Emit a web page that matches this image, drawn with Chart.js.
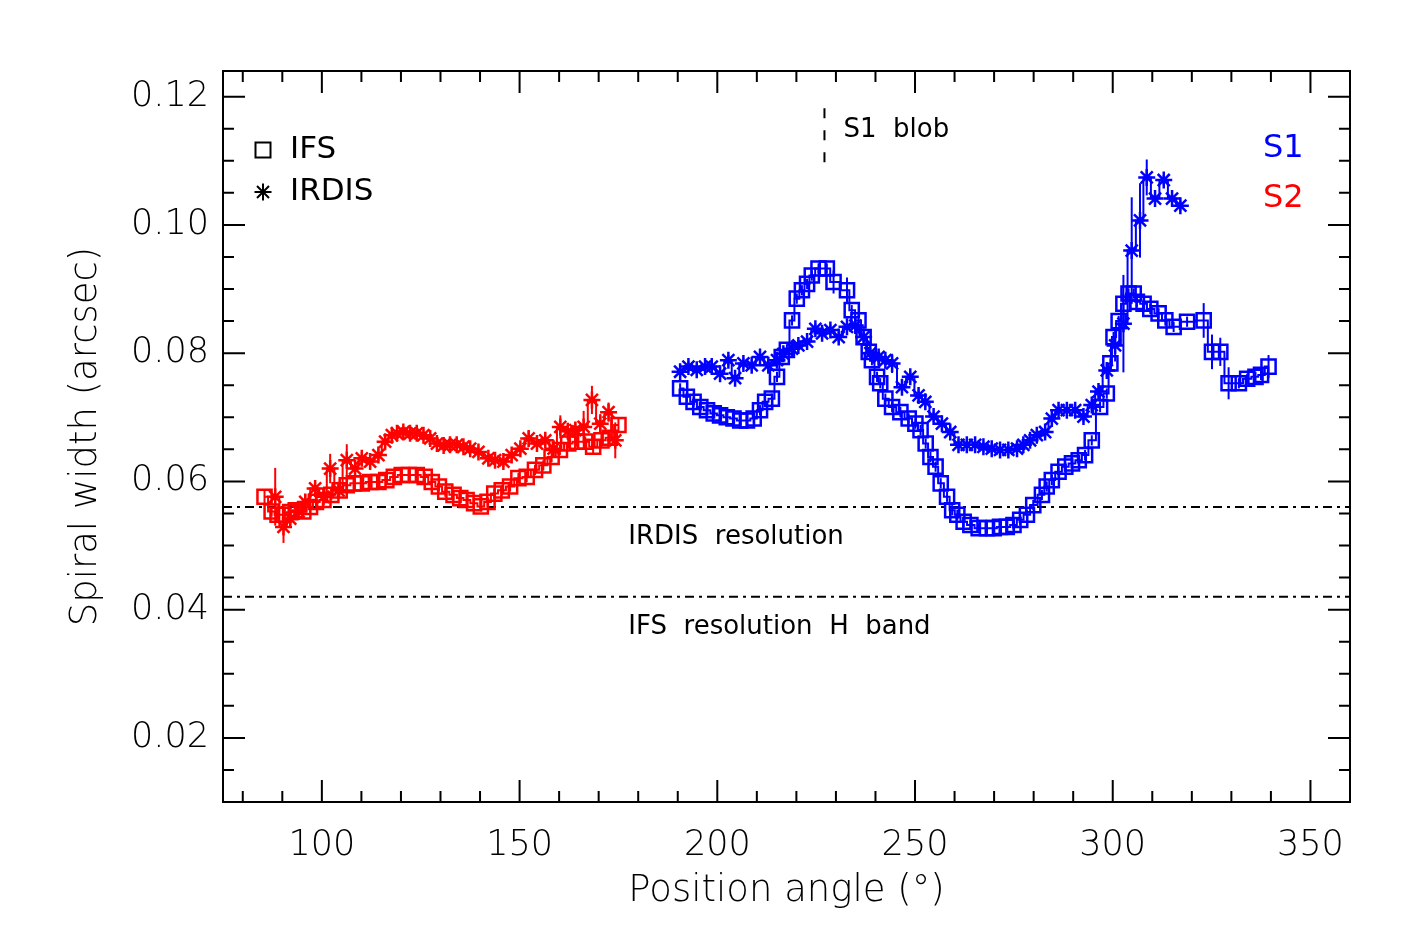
<!DOCTYPE html>
<html><head><meta charset="utf-8">
<script src="https://cdn.jsdelivr.net/npm/chart.js@4/dist/chart.umd.min.js"></script>
<style>html,body{margin:0;padding:0;background:#fff;}</style>
</head><body>
<canvas id="c" width="1417" height="944"></canvas>
<script>
// ---------------- DATA ----------------
const xTickValues = [100, 150, 200, 250, 300, 350];
const yTickValues = [0.02, 0.04, 0.06, 0.08, 0.10, 0.12];

// S2 (red) IFS
const s2IfsAngle = [85.5,87.3,88.8,90.3,92.0,93.4,95.3,97.0,98.5,100.4,102.4,104.5,106.3,108.1,110.1,112.2,114.3,116.3,118.2,120.2,122.0,124.0,126.0,127.8,129.6,131.2,133.3,135.0,136.6,138.5,140.2,141.9,143.6,145.5,147.6,149.7,151.8,153.9,156.0,158.1,160.2,162.3,164.5,166.6,168.6,170.7,172.8,175.0];
const s2IfsWidth = [0.0576,0.0553,0.0548,0.0548,0.0552,0.0555,0.0553,0.0560,0.0568,0.0571,0.0579,0.0586,0.0594,0.0597,0.0597,0.0599,0.0599,0.0602,0.0607,0.0610,0.0610,0.0610,0.0607,0.0599,0.0592,0.0584,0.0579,0.0574,0.0571,0.0566,0.0561,0.0568,0.0581,0.0586,0.0592,0.0605,0.0607,0.0618,0.0625,0.0638,0.0649,0.0659,0.0662,0.0662,0.0654,0.0664,0.0668,0.0688];
const s2IfsErr = [0.0010,0.0008,0.0008,0.0008,0.0008,0.0008,0.0008,0.0008,0.0008,0.0008,0.0008,0.0008,0.0008,0.0008,0.0008,0.0008,0.0008,0.0008,0.0008,0.0008,0.0008,0.0008,0.0008,0.0008,0.0008,0.0008,0.0008,0.0008,0.0008,0.0008,0.0008,0.0008,0.0008,0.0008,0.0008,0.0008,0.0008,0.0008,0.0008,0.0008,0.0008,0.0008,0.0008,0.0008,0.0010,0.0012,0.0012,0.0012];

// S2 (red) IRDIS
const s2IrdisAngle = [88.2,90.3,92.0,94.1,95.8,98.3,100.4,102.1,104.2,106.3,108.4,110.1,112.2,114.3,116.0,117.7,119.0,120.6,122.3,124.0,125.7,127.4,129.1,130.8,132.4,134.1,135.8,137.5,139.6,142.1,143.8,145.9,148.0,150.2,152.3,154.4,156.5,158.6,160.3,162.2,164.1,166.2,168.3,170.4,172.5,174.2];
const s2IrdisWidth = [0.0576,0.0529,0.0542,0.0553,0.0568,0.0589,0.0576,0.0620,0.0586,0.0633,0.0620,0.0636,0.0631,0.0641,0.0662,0.0672,0.0675,0.0677,0.0675,0.0675,0.0672,0.0667,0.0659,0.0656,0.0657,0.0657,0.0654,0.0651,0.0646,0.0636,0.0633,0.0631,0.0641,0.0651,0.0667,0.0659,0.0664,0.0651,0.0685,0.0678,0.0680,0.0685,0.0727,0.0690,0.0708,0.0664];
const s2IrdisErr = [0.0045,0.0025,0.0010,0.0010,0.0012,0.0010,0.0010,0.0023,0.0010,0.0025,0.0012,0.0010,0.0010,0.0010,0.0010,0.0008,0.0008,0.0008,0.0008,0.0008,0.0008,0.0008,0.0008,0.0008,0.0008,0.0008,0.0008,0.0008,0.0008,0.0008,0.0008,0.0008,0.0008,0.0008,0.0012,0.0008,0.0008,0.0008,0.0018,0.0012,0.0012,0.0025,0.0022,0.0015,0.0015,0.0028];

// S1 (blue) IFS
const s1IfsAngle = [190.6,192.3,194.0,195.7,197.4,199.1,200.7,202.4,204.1,205.8,207.5,209.2,210.8,212.1,213.8,215.1,216.3,217.6,218.9,220.1,221.4,222.7,223.9,225.6,227.7,229.4,232.8,234.0,235.7,237.0,238.3,239.1,240.4,241.2,242.5,244.2,246.3,248.4,250.1,251.4,252.7,253.9,255.2,256.5,258.1,259.4,260.7,262.3,264.0,266.1,268.2,269.9,271.5,273.2,274.9,276.6,278.3,279.9,282.1,283.3,284.6,286.3,288.0,289.7,291.4,293.0,294.7,296.8,298.5,299.4,300.2,301.5,302.7,304.0,305.3,306.1,307.8,309.5,311.6,313.3,315.4,318.8,323.0,325.1,327.2,329.3,331.9,334.0,336.1,337.5,339.4];
const s1IfsWidth = [0.0745,0.0732,0.0724,0.0716,0.0711,0.0706,0.0703,0.0700,0.0698,0.0695,0.0695,0.0698,0.0711,0.0724,0.0729,0.0763,0.0794,0.0805,0.0851,0.0885,0.0898,0.0908,0.0921,0.0932,0.0932,0.0911,0.0898,0.0867,0.0851,0.0825,0.0802,0.0789,0.0763,0.0753,0.0729,0.0716,0.0708,0.0698,0.0690,0.0680,0.0659,0.0638,0.0623,0.0597,0.0576,0.0555,0.0548,0.0537,0.0532,0.0527,0.0527,0.0527,0.0529,0.0529,0.0532,0.0540,0.0548,0.0563,0.0579,0.0592,0.0602,0.0615,0.0623,0.0628,0.0633,0.0641,0.0664,0.0716,0.0737,0.0784,0.0825,0.0850,0.0877,0.0893,0.0893,0.0880,0.0877,0.0869,0.0862,0.0851,0.0841,0.0849,0.0851,0.0802,0.0802,0.0753,0.0753,0.0760,0.0763,0.0766,0.0779];
const s1IfsErr = [0.0008,0.0008,0.0008,0.0008,0.0008,0.0008,0.0008,0.0008,0.0008,0.0008,
  0.0008,0.0008,0.0008,0.0008,0.0008,0.0008,0.0008,0.0008,0.0008,0.0008,
  0.0008,0.0008,0.0008,0.0008,0.0008,0.0018,0.0020,0.0008,0.0008,0.0008,
  0.0008,0.0008,0.0008,0.0008,0.0008,0.0008,0.0008,0.0008,0.0008,0.0008,
  0.0008,0.0008,0.0008,0.0008,0.0008,0.0008,0.0008,0.0008,0.0008,0.0008,
  0.0008,0.0008,0.0008,0.0008,0.0008,0.0008,0.0008,0.0008,0.0008,0.0008,
  0.0008,0.0008,0.0008,0.0008,0.0008,0.0008,0.0008,0.0008,0.0008,0.0008,
  0.0008,0.0008,0.0015,0.0008,0.0008,0.0008,0.0008,0.0008,0.0008,0.0008,
  0.0008,0.0008,0.0027,0.0027,0.0022,0.0025,0.0008,0.0008,0.0008,0.0008,
  0.0018];

// S1 (blue) IRDIS
const s1IrdisAngle = [190.6,192.7,194.8,196.9,198.6,200.7,202.8,204.5,206.6,208.7,210.8,212.9,215.1,216.7,218.9,220.5,222.7,224.8,226.5,228.6,230.7,232.8,234.9,237.0,238.7,240.8,242.5,244.2,246.7,248.8,250.9,252.6,254.7,256.8,258.9,261.0,263.1,265.2,267.3,269.4,271.5,273.6,275.8,277.4,279.1,280.8,282.9,284.6,286.3,288.4,290.5,292.6,294.7,296.4,298.5,300.6,302.7,304.8,306.9,308.6,310.7,312.9,315.0,317.1];
const s1IrdisWidth = [0.0771,0.0779,0.0774,0.0779,0.0779,0.0768,0.0789,0.0761,0.0784,0.0781,0.0794,0.0781,0.0789,0.0799,0.0807,0.0812,0.0818,0.0838,0.0831,0.0836,0.0825,0.0841,0.0843,0.0825,0.0800,0.0794,0.0789,0.0784,0.0747,0.0763,0.0734,0.0724,0.0701,0.0690,0.0677,0.0657,0.0657,0.0657,0.0654,0.0651,0.0649,0.0649,0.0651,0.0657,0.0664,0.0672,0.0677,0.0698,0.0711,0.0711,0.0711,0.0701,0.0719,0.0740,0.0773,0.0812,0.0846,0.0960,0.1007,0.1074,0.1041,0.1070,0.1041,0.1030];
const s1IrdisErr = [0.0008,0.0008,0.0008,0.0008,0.0008,0.0008,0.0008,0.0008,0.0008,0.0008,
  0.0008,0.0008,0.0008,0.0008,0.0008,0.0008,0.0008,0.0008,0.0008,0.0008,
  0.0008,0.0008,0.0008,0.0008,0.0008,0.0008,0.0008,0.0015,0.0012,0.0008,
  0.0008,0.0008,0.0008,0.0008,0.0008,0.0008,0.0008,0.0008,0.0008,0.0008,
  0.0008,0.0008,0.0008,0.0008,0.0008,0.0008,0.0008,0.0008,0.0008,0.0008,
  0.0008,0.0008,0.0008,0.0008,0.0010,0.0025,0.0076,0.0083,0.0058,0.0028,
  0.0008,0.0008,0.0008,0.0008];

// reference lines / annotations (data units)
const irdisResolution = 0.056;
const ifsResolution = 0.042;
const blobAngle = 227.1;
const blobRange = [0.109, 0.1182];

// ---------------- STYLE ----------------
const FONT = '"DejaVu Sans", sans-serif';
const RED = '#ff0000', BLUE = '#0000ff';

function makeSet(label, ang, wid, err, color, style) {
  return {
    label,
    data: ang.map((a, i) => ({x: a, y: wid[i]})),
    errors: err,
    showLine: true,
    stepped: 'middle',
    borderColor: color,
    borderWidth: 2,
    pointStyle: style,
    pointRadius: style === 'rect' ? 10 : 8.5,
    pointBorderWidth: 2.5,
    pointBorderColor: color,
    pointBackgroundColor: 'rgba(0,0,0,0)',
    fill: false
  };
}

function drawStar(ctx, cx, cy, r) {
  ctx.beginPath();
  for (let k = 0; k < 4; k++) {
    const ang = k * Math.PI / 4;
    const dx = Math.cos(ang) * r, dy = Math.sin(ang) * r;
    ctx.moveTo(cx - dx, cy - dy); ctx.lineTo(cx + dx, cy + dy);
  }
  ctx.stroke();
}

const decor = {
  id: 'decor',
  beforeDatasetsDraw(chart) {
    const {ctx, chartArea: a, scales: {x, y}} = chart;
    ctx.save();
    ctx.strokeStyle = '#000';
    ctx.lineWidth = 2;
    ctx.setLineDash([9, 5, 3, 5]);
    [irdisResolution, ifsResolution].forEach(v => {
      const py = y.getPixelForValue(v);
      ctx.beginPath(); ctx.moveTo(a.left, py); ctx.lineTo(a.right, py); ctx.stroke();
    });
    ctx.setLineDash([10, 12]);
    ctx.lineWidth = 2;
    const bx = x.getPixelForValue(blobAngle);
    ctx.beginPath();
    ctx.moveTo(bx, y.getPixelForValue(blobRange[1]));
    ctx.lineTo(bx, y.getPixelForValue(blobRange[0]));
    ctx.stroke();
    ctx.setLineDash([]);
    // error bars
    chart.data.datasets.forEach(ds => {
      ctx.strokeStyle = ds.borderColor;
      ctx.lineWidth = 2;
      ds.data.forEach((p, j) => {
        const e = ds.errors[j] || 0;
        const px = x.getPixelForValue(p.x);
        ctx.beginPath();
        ctx.moveTo(px, y.getPixelForValue(p.y - e));
        ctx.lineTo(px, y.getPixelForValue(p.y + e));
        ctx.stroke();
      });
    });
    ctx.restore();
  },
  afterDraw(chart) {
    const {ctx, chartArea: a, scales: {x, y}} = chart;
    ctx.save();
    ctx.strokeStyle = '#000';
    ctx.lineWidth = 2;
    ctx.strokeRect(a.left, a.top, a.right - a.left, a.bottom - a.top);
    const MAJ = 22, MIN = 11;
    ctx.beginPath();
    for (let v = 80; v <= 350; v += 10) {
      const len = xTickValues.includes(v) ? MAJ : MIN;
      const px = x.getPixelForValue(v);
      ctx.moveTo(px, a.bottom); ctx.lineTo(px, a.bottom - len);
      ctx.moveTo(px, a.top); ctx.lineTo(px, a.top + len);
    }
    for (let k = 3; k <= 24; k++) {
      const v = k * 0.005;
      const major = k % 4 === 0;
      const len = major ? MAJ : MIN;
      const py = y.getPixelForValue(v);
      ctx.moveTo(a.left, py); ctx.lineTo(a.left + len, py);
      ctx.moveTo(a.right, py); ctx.lineTo(a.right - len, py);
    }
    ctx.stroke();

    // annotation texts
    ctx.fillStyle = '#000';
    ctx.textBaseline = 'middle';
    ctx.textAlign = 'left';
    ctx.font = '26px ' + FONT;
    ctx.fillText('S1  blob', x.getPixelForValue(blobAngle) + 19, y.getPixelForValue(0.1147));
    ctx.fillText('IRDIS  resolution', x.getPixelForValue(177.5), y.getPixelForValue(irdisResolution) + 30);
    ctx.fillText('IFS  resolution  H  band', x.getPixelForValue(177.5), y.getPixelForValue(ifsResolution) + 30);

    // legend
    const lx = a.left + 40;
    const ly1 = a.top + 79, ly2 = a.top + 121;
    ctx.lineWidth = 2;
    ctx.strokeRect(lx - 7.5, ly1 - 7.5, 15, 15);
    drawStar(ctx, lx, ly2, 8.5);
    ctx.font = '31px ' + FONT;
    ctx.fillText('IFS', a.left + 67, ly1);
    ctx.fillText('IRDIS', a.left + 67, ly2);

    // series labels
    ctx.font = '32px ' + FONT;
    ctx.fillStyle = BLUE;
    ctx.fillText('S1', a.right - 87, a.top + 78);
    ctx.fillStyle = RED;
    ctx.fillText('S2', a.right - 87, a.top + 128);
    ctx.restore();
  }
};

new Chart(document.getElementById('c').getContext('2d'), {
  type: 'scatter',
  data: {
    datasets: [
      makeSet('S2 IFS', s2IfsAngle, s2IfsWidth, s2IfsErr, RED, 'rect'),
      makeSet('S2 IRDIS', s2IrdisAngle, s2IrdisWidth, s2IrdisErr, RED, 'star'),
      makeSet('S1 IFS', s1IfsAngle, s1IfsWidth, s1IfsErr, BLUE, 'rect'),
      makeSet('S1 IRDIS', s1IrdisAngle, s1IrdisWidth, s1IrdisErr, BLUE, 'star')
    ]
  },
  options: {
    responsive: false,
    animation: false,
    devicePixelRatio: 1,
    layout: {padding: {top: 71, right: 67, left: 0, bottom: 0}},
    plugins: {legend: {display: false}, tooltip: {enabled: false}},
    scales: {
      x: {
        type: 'linear', position: 'bottom', min: 75, max: 360,
        afterBuildTicks: s => { s.ticks = xTickValues.map(v => ({value: v})); },
        afterFit: s => { s.height = 142; },
        grid: {display: false, drawTicks: false},
        border: {display: false},
        ticks: {font: {family: FONT, size: 35, weight: 300}, color: '#000', padding: 23, maxRotation: 0, autoSkip: false,
                callback: v => String(v)},
        title: {display: true, text: 'Position angle (°)', color: '#000',
                font: {family: FONT, size: 37, weight: 300}, padding: {top: 0, bottom: 30}}
      },
      y: {
        type: 'linear', position: 'left', min: 0.01, max: 0.124,
        afterBuildTicks: s => { s.ticks = yTickValues.map(v => ({value: v})); },
        afterFit: s => { s.width = 223; },
        grid: {display: false, drawTicks: false},
        border: {display: false},
        ticks: {font: {family: FONT, size: 35, weight: 300}, color: '#000', padding: 14, autoSkip: false,
                callback: v => Number(v).toFixed(2)},
        title: {display: true, text: 'Spiral width (arcsec)', color: '#000',
                font: {family: FONT, size: 37, weight: 300}, padding: {top: 64, bottom: 0}}
      }
    }
  },
  plugins: [decor]
});
</script>
</body></html>
